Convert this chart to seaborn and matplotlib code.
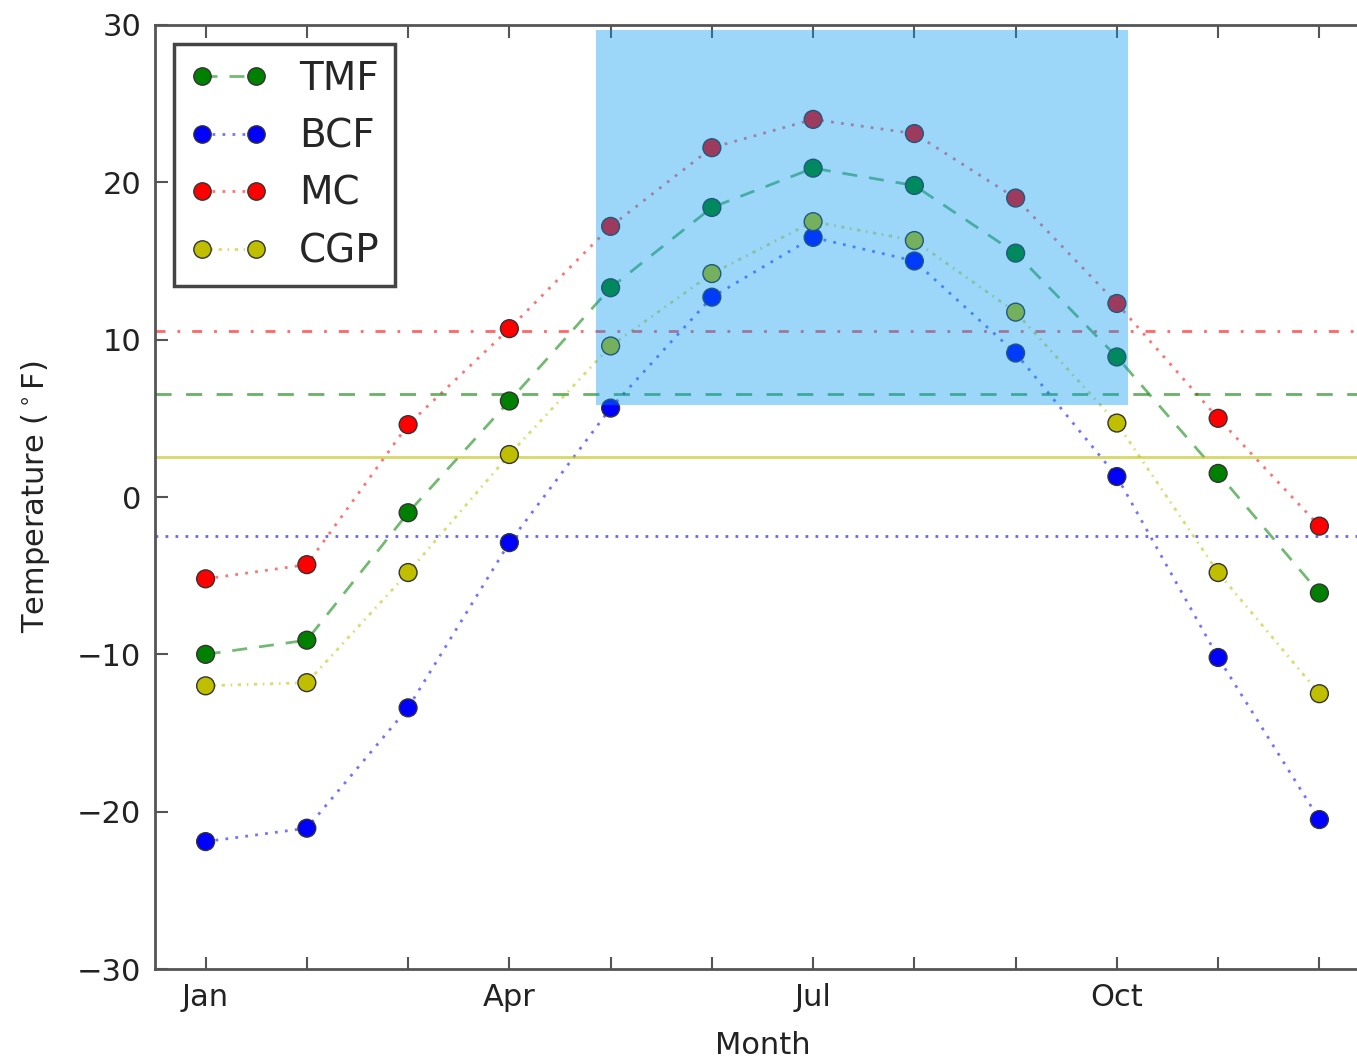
import numpy as np
import pandas as pd
import matplotlib
matplotlib.use("Agg")
import matplotlib.pyplot as plt
from matplotlib.lines import Line2D
from matplotlib.patches import Rectangle
import seaborn as sns

# Monthly mean temperatures (deg F) for four stations
months = list(range(1, 13))
month_labels = ["Jan", "", "", "Apr", "", "", "Jul", "", "", "Oct", "", ""]
tmf = [-10.0, -9.1, -1.0, 6.1, 13.3, 18.4, 20.9, 19.8, 15.5, 8.9, 1.5, -6.1]
bcf = [-21.9, -21.05, -13.4, -2.9, 5.65, 12.7, 16.5, 15.0, 9.15, 1.3, -10.2, -20.5]
mc = [-5.2, -4.3, 4.6, 10.7, 17.2, 22.2, 24.0, 23.1, 19.0, 12.3, 5.0, -1.85]
cgp = [-12.0, -11.8, -4.8, 2.7, 9.6, 14.2, 17.5, 16.3, 11.75, 4.7, -4.8, -12.5]
stations = ["TMF", "BCF", "MC", "CGP"]

# Highlighted warm-season window (data coordinates)
span_x = (4.86, 10.11)
span_y = (5.85, 29.7)

colors = {"TMF": "#008000", "BCF": "#0000ff", "MC": "#ff0000", "CGP": "#bfbf00"}
dashes = {"TMF": (5.4, 4.3), "BCF": (1.0, 2.6), "MC": (1.0, 2.6), "CGP": (1.2, 2.0, 0.6, 2.0)}
mean_styles = {"MC": (0, (3.6, 4.3, 1.0, 4.3)), "TMF": (0, (5.8, 5.2)),
               "CGP": "-", "BCF": (0, (1.0, 2.6))}

df = pd.DataFrame({
    "Month": months * 4,
    "Temperature": tmf + bcf + mc + cgp,
    "Station": sum([[s] * 12 for s in stations], []),
})

sns.set_style("ticks")
plt.rcParams["font.family"] = ["DejaVu Sans"]
plt.rcParams["mathtext.fontset"] = "dejavusans"
plt.rcParams["xtick.direction"] = "in"
plt.rcParams["ytick.direction"] = "in"

fig = plt.figure(figsize=(13.57, 10.63), dpi=100)
ax = fig.add_axes([0.1142, 0.0884, 0.8954, 0.8881])

# Connecting lines (semi-transparent)
sns.lineplot(data=df, x="Month", y="Temperature", hue="Station", style="Station",
             palette=colors, dashes=dashes, linewidth=2.0, alpha=0.55,
             legend=False, ax=ax, zorder=2)

# Annual means as horizontal reference lines
for s in ["MC", "TMF", "CGP", "BCF"]:
    mean_val = df.loc[df.Station == s, "Temperature"].mean()
    ax.axhline(mean_val, color=colors[s], linestyle=mean_styles[s],
               linewidth=2.0, alpha=0.6, zorder=2)

# Monthly markers
sns.scatterplot(data=df, x="Month", y="Temperature", hue="Station",
                palette=colors, s=165, edgecolor="#333333", linewidth=1.0,
                legend=False, ax=ax, zorder=3)

# Warm-season highlight drawn on top
ax.add_patch(Rectangle((span_x[0], span_y[0]), span_x[1] - span_x[0],
                       span_y[1] - span_y[0], facecolor="#0099f3",
                       edgecolor="none", alpha=0.39, zorder=4))

ax.set_xlim(0.5, 12.5)
ax.set_ylim(-30, 30)
ax.set_xticks(months)
ax.set_xticklabels(month_labels)
ax.set_yticks([-30, -20, -10, 0, 10, 20, 30])
ax.set_yticklabels(["\u221230", "\u221220", "\u221210", "0", "10", "20", "30"])
ax.tick_params(axis="both", which="major", labelsize=22, length=9, width=1.5,
               color="#555555", top=True, right=True, pad=10, labelcolor="#222222")
for sp in ax.spines.values():
    sp.set_color("#555555")
    sp.set_linewidth(2.0)

ax.set_xlabel("Month", fontsize=22, color="#222222", labelpad=14)
ax.set_ylabel("Temperature ($^\\circ$F)", fontsize=22, color="#222222", labelpad=18)

# Legend entries: faint connecting line with opaque markers on top
handles = []
for s in stations:
    line = Line2D([0], [0], color=colors[s], linestyle=(0, dashes[s]),
                  linewidth=2.0, alpha=0.55)
    dots = Line2D([0], [0], linestyle="none", marker="o", markersize=12.5,
                  markerfacecolor=colors[s], markeredgecolor="#333333",
                  markeredgewidth=1.0)
    handles.append((line, dots))
leg = ax.legend(handles, stations, loc="upper left", numpoints=2, fontsize=28,
                fancybox=False, framealpha=1, edgecolor="#444444",
                handlelength=2.0, handletextpad=0.8, labelspacing=0.5,
                borderpad=0.4, borderaxespad=0.5)
leg.get_frame().set_linewidth(2.5)
leg.set_zorder(5)

fig.savefig("out.png", dpi=100)
